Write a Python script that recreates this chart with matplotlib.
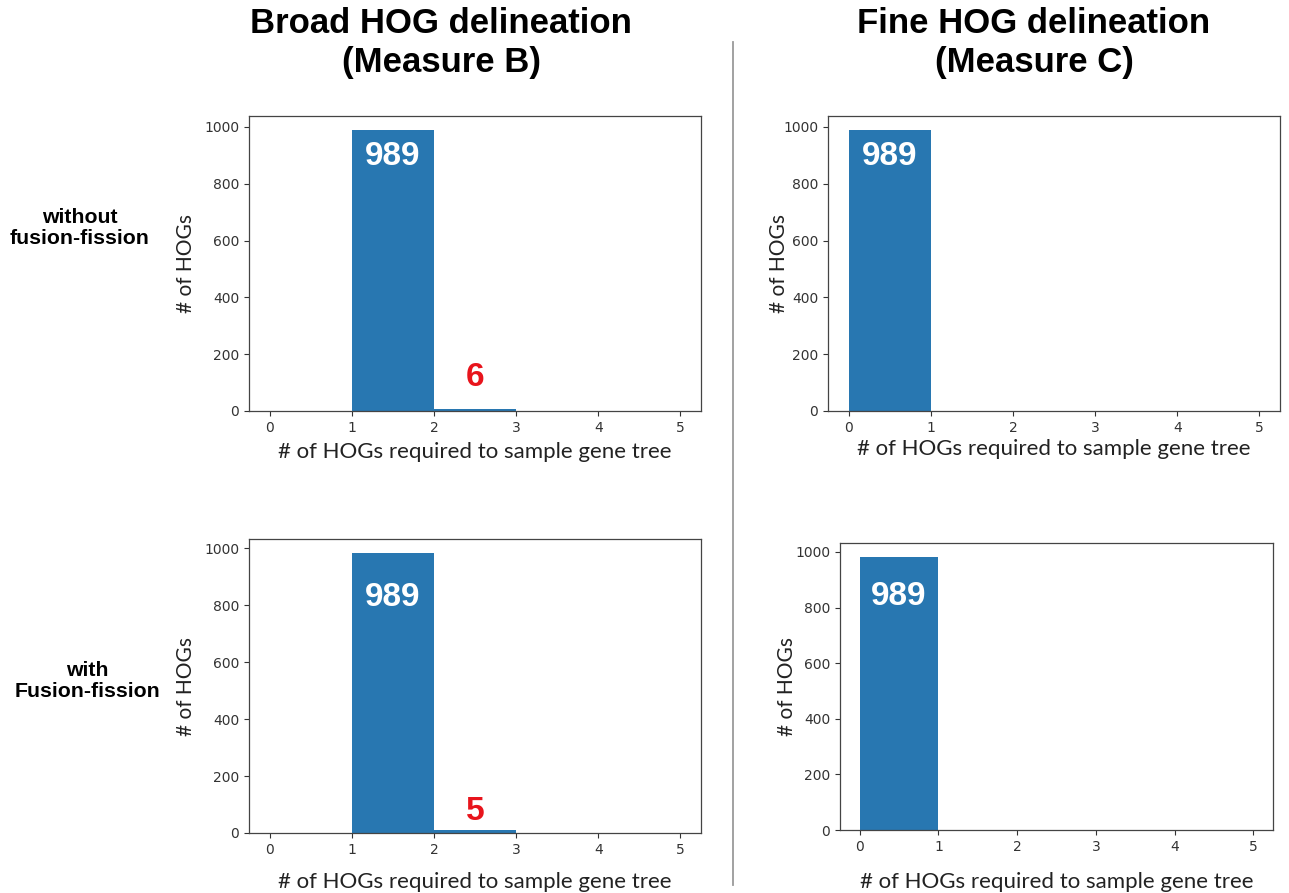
import numpy as np
import matplotlib
matplotlib.use("Agg")
import matplotlib.pyplot as plt
from matplotlib.lines import Line2D

# histogram bins: number of HOGs required to sample a gene tree
bin_edges = [0, 1, 2, 3, 4, 5]
broad_without = [0, 989, 6, 0, 0]
fine_without = [989, 0, 0, 0, 0]
broad_with = [0, 983, 9, 0, 0]
fine_with = [983, 0, 0, 0, 0]

col_titles = ["Broad HOG delineation\n(Measure B)", "Fine HOG delineation\n(Measure C)"]
row_titles = ["without\nfusion-fission", "with\nFusion-fission"]
xlab = "# of HOGs required to sample gene tree"
ylab = "# of HOGs"

# annotations: (x, y, text, colour)
notes_tl = [(1.5, 895, "989", "white"), (2.5, 118, "6", "#e8141c")]
notes_tr = [(0.5, 895, "989", "white")]
notes_bl = [(1.5, 828, "989", "white"), (2.5, 76, "5", "#e8141c")]
notes_br = [(0.5, 838, "989", "white")]

bar_col = "#2877b1"
W, H = 1289, 893

fig = plt.figure(figsize=(W / 100, H / 100), dpi=100)


def px_axes(x0, y0, x1, y1):
    return fig.add_axes([x0 / W, 1 - y1 / H, (x1 - x0) / W, (y1 - y0) / H])


def draw(ax, counts, notes, xpad, ypad):
    ax.bar(bin_edges[:-1], counts, width=1, align="edge", color=bar_col,
           edgecolor="none")
    ax.set_xticks(bin_edges)
    ax.set_yticks([0, 200, 400, 600, 800, 1000])
    ax.tick_params(labelsize=10, colors="#333333", length=3.5, width=0.8)
    for s in ax.spines.values():
        s.set_color("#444444")
        s.set_linewidth(0.9)
    ax.set_xlabel(xlab, family="Lato", fontsize=16, color="#222222",
                  labelpad=xpad)
    ax.set_ylabel(ylab, family="Lato", fontsize=15, color="#222222",
                  labelpad=ypad)
    for x, y, t, c in notes:
        ax.text(x, y, t, color=c, fontsize=24, fontweight="bold",
                family="Liberation Sans", ha="center", va="center")


ax1 = px_axes(249, 116, 701, 411)
draw(ax1, broad_without, notes_tl, 5, 6)
ax2 = px_axes(828, 116, 1280, 411)
draw(ax2, fine_without, notes_tr, 3, -4)
ax3 = px_axes(249, 539, 701, 833)
draw(ax3, broad_with, notes_bl, 11, 6)
ax4 = px_axes(840, 543, 1273, 830)
draw(ax4, fine_with, notes_br, 13, -1)

for cx, t in zip([441 / W, 1034 / W], col_titles):
    fig.text(cx, 1 - 43 / H, t, ha="center", va="center", fontsize=25,
             fontweight="bold", family="Liberation Sans", linespacing=1.26)

for (cx, cy), t in zip([(80 / W, 1 - 228 / H), (87 / W, 1 - 681 / H)], row_titles):
    fig.text(cx, cy, t, ha="center", va="center", fontsize=15.3,
             fontweight="bold", family="Liberation Sans", linespacing=1.15)

fig.add_artist(Line2D([733 / W, 733 / W], [1 - 42 / H, 1 - 885 / H],
                      color="#9a9a9a", lw=1.3))

fig.savefig("out.png", dpi=100)
